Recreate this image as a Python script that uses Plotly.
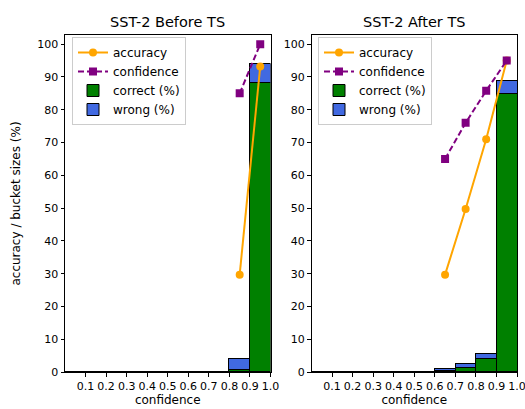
import plotly.graph_objects as go

bin_centers = [0.05, 0.15, 0.25, 0.35, 0.45, 0.55, 0.65, 0.75, 0.85, 0.95]
x_tick_vals = [0.1, 0.2, 0.3, 0.4, 0.5, 0.6, 0.7, 0.8, 0.9, 1.0]
x_tick_text = ["0.1", "0.2", "0.3", "0.4", "0.5", "0.6", "0.7", "0.8", "0.9", "1.0"]
y_tick_vals = [0, 10, 20, 30, 40, 50, 60, 70, 80, 90, 100]

titles = ["SST-2 Before TS", "SST-2 After TS"]

before_correct = [0, 0, 0, 0, 0, 0, 0, 0, 0.7, 88.1]
before_wrong = [0, 0, 0, 0, 0, 0, 0, 0, 3.2, 5.9]
before_acc_x = [0.85, 0.95]
before_acc = [29.7, 93.2]
before_conf_x = [0.85, 0.95]
before_conf = [85.0, 100.0]

after_correct = [0, 0, 0, 0, 0, 0, 0.2, 1.3, 4.0, 84.8]
after_wrong = [0, 0, 0, 0, 0, 0, 0.8, 1.0, 1.4, 4.0]
after_acc_x = [0.65, 0.75, 0.85, 0.95]
after_acc = [29.7, 49.7, 71.0, 95.0]
after_conf_x = [0.65, 0.75, 0.85, 0.95]
after_conf = [65.0, 76.0, 85.8, 95.0]

W, H = 525, 409
FONT = "DejaVu Sans"

fig = go.Figure()

panels = [
    (before_correct, before_wrong, before_acc_x, before_acc, before_conf_x, before_conf, "x", "y", "legend"),
    (after_correct, after_wrong, after_acc_x, after_acc, after_conf_x, after_conf, "x2", "y2", "legend2"),
]

for corr, wrong, ax_, acc, cx, conf, xa, ya, leg in panels:
    fig.add_trace(go.Scatter(x=ax_, y=acc, mode="lines+markers", name="accuracy",
                             line=dict(color="#FFA500", width=2),
                             marker=dict(symbol="circle", size=8, color="#FFA500"),
                             xaxis=xa, yaxis=ya, legend=leg))
    fig.add_trace(go.Scatter(x=cx, y=conf, mode="lines+markers", name="confidence",
                             line=dict(color="#800080", width=2, dash="6px,3px"),
                             marker=dict(symbol="square", size=8, color="#800080"),
                             xaxis=xa, yaxis=ya, legend=leg))
    fig.add_trace(go.Bar(x=bin_centers, y=corr, width=0.1, name="correct (%)",
                         marker=dict(color="#008000", line=dict(color="black", width=1)),
                         xaxis=xa, yaxis=ya, legend=leg))
    fig.add_trace(go.Bar(x=bin_centers, y=wrong, width=0.1, name="wrong (%)",
                         marker=dict(color="#4169E1", line=dict(color="black", width=1)),
                         xaxis=xa, yaxis=ya, legend=leg))

ydom = [(409 - 372) / H, (409 - 35) / H]
xdoms = [[65 / W, 270.5 / W], [311.5 / W, 517 / W]]

axis_common = dict(showline=True, mirror=True, linecolor="black", linewidth=1,
                   ticks="outside", ticklen=3.5, tickwidth=1, tickcolor="black",
                   showgrid=False, zeroline=False, tickangle=0, automargin=False,
                   ticklabeloverflow="allow",
                   tickfont=dict(family=FONT, size=11, color="black"))

legend_common = dict(bgcolor="rgba(255,255,255,0.8)", bordercolor="#cccccc", borderwidth=1,
                     font=dict(family=FONT, size=12, color="black"),
                     xanchor="left", yanchor="top", traceorder="normal",
                     tracegroupgap=0, itemwidth=30)

fig.update_layout(
    width=W, height=H,
    margin=dict(l=0, r=0, t=0, b=0),
    paper_bgcolor="white", plot_bgcolor="white",
    barmode="stack", bargap=0,
    font=dict(family=FONT, size=12, color="black"),
    xaxis=dict(domain=xdoms[0], range=[0, 1], tickvals=x_tick_vals, ticktext=x_tick_text,
               anchor="y", title=dict(text="confidence", standoff=2,
                                      font=dict(family=FONT, size=12)), **axis_common),
    yaxis=dict(domain=ydom, range=[0, 102.8], tickvals=y_tick_vals, anchor="x",
               title=dict(text="accuracy / bucket sizes (%)", standoff=14,
                          font=dict(family=FONT, size=12)), **axis_common),
    xaxis2=dict(domain=xdoms[1], range=[0, 1], tickvals=x_tick_vals, ticktext=x_tick_text,
                anchor="y2", title=dict(text="confidence", standoff=2,
                                        font=dict(family=FONT, size=12)), **axis_common),
    yaxis2=dict(domain=ydom, range=[0, 102.8], tickvals=y_tick_vals, anchor="x2", **axis_common),
    legend=dict(x=72 / W, y=(409 - 37) / H, **legend_common),
    legend2=dict(x=318 / W, y=(409 - 37) / H, **legend_common),
    annotations=[
        dict(text=titles[0], x=(xdoms[0][0] + xdoms[0][1]) / 2, y=(409 - 22) / H,
             xref="paper", yref="paper", showarrow=False, xanchor="center", yanchor="middle",
             font=dict(family=FONT, size=14.5, color="black")),
        dict(text=titles[1], x=(xdoms[1][0] + xdoms[1][1]) / 2, y=(409 - 22) / H,
             xref="paper", yref="paper", showarrow=False, xanchor="center", yanchor="middle",
             font=dict(family=FONT, size=14.5, color="black")),
    ],
)

fig.write_html("out.html", config={"displayModeBar": False},
               post_script="document.body.style.margin='0';")
